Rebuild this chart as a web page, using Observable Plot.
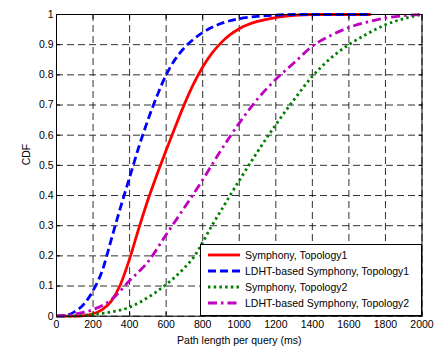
<!DOCTYPE html>
<html>
<head>
<meta charset="utf-8">
<script src="https://cdn.jsdelivr.net/npm/d3@7"></script>
<script src="https://cdn.jsdelivr.net/npm/@observablehq/plot@0.6"></script>
<style>
  body { margin: 0; background: #fff; }
  #wrap { position: relative; width: 440px; height: 347px; font-family: "Liberation Sans", Arial, sans-serif; }
  #legend { position: absolute; left: 200px; top: 244px; width: 220px; height: 70px; border: 1px solid #000; background: #fff; box-sizing: content-box; }
  .row { position: absolute; left: 0; height: 16px; display: flex; align-items: center; font-size: 10.5px; color: #000; white-space: nowrap; }
  .row svg { margin-left: 7px; margin-right: 5px; }
</style>
</head>
<body>
<div id="wrap"></div>
<script>
// Symphony, Topology1
const symT1X = [0,100,150,200,250,300,350,400,450,500,550,600,650,700,750,800,850,900,950,1000,1100,1200,1300,1400,1720];
const symT1Y = [0,0,0.002,0.008,0.022,0.05,0.105,0.19,0.29,0.385,0.47,0.55,0.628,0.703,0.77,0.826,0.871,0.906,0.933,0.953,0.977,0.99,0.997,1,1];
// LDHT-based Symphony, Topology1
const ldhtT1X = [0,50,100,150,200,250,300,350,400,450,500,550,600,650,700,750,800,900,1000,1100,1200,1300,1720];
const ldhtT1Y = [0,0.002,0.015,0.04,0.085,0.15,0.255,0.36,0.46,0.56,0.65,0.73,0.8,0.852,0.89,0.918,0.94,0.97,0.986,0.994,0.998,1,1];
// Symphony, Topology2
const symT2X = [0,100,200,300,400,500,600,700,750,800,850,900,1000,1100,1200,1300,1400,1500,1600,1700,1800,1900,2000];
const symT2Y = [0,0.001,0.006,0.014,0.03,0.062,0.105,0.16,0.195,0.245,0.3,0.35,0.45,0.545,0.635,0.718,0.795,0.855,0.9,0.936,0.966,0.986,1];
// LDHT-based Symphony, Topology2
const ldhtT2X = [0,100,200,300,400,500,600,700,800,900,1000,1100,1200,1300,1400,1500,1600,1700,1800,1900,2000];
const ldhtT2Y = [0,0.007,0.022,0.055,0.118,0.18,0.27,0.36,0.452,0.55,0.64,0.72,0.785,0.84,0.895,0.93,0.957,0.975,0.988,0.996,1];

const seriesNames = ["Symphony, Topology1","LDHT-based Symphony, Topology1","Symphony, Topology2","LDHT-based Symphony, Topology2"];
const seriesColors = ["#ff0000","#0000ff","#008000","#bf00bf"];
const seriesDash = [null,"8,4","2.5,3.2","9,4,2.5,4"];
const xTicks = [0,200,400,600,800,1000,1200,1400,1600,1800,2000];
const xTickLabels = ["0","200","400","600","800","1000","1200","1400","1600","1800","2000"];
const yTicks = [0,0.1,0.2,0.3,0.4,0.5,0.6,0.7,0.8,0.9,1];
const yTickLabels = ["0","0.1","0.2","0.3","0.4","0.5","0.6","0.7","0.8","0.9","1"];

const xs = [symT1X, ldhtT1X, symT2X, ldhtT2X];
const ys = [symT1Y, ldhtT1Y, symT2Y, ldhtT2Y];
const rows = [];
xs.forEach((xa, i) => xa.forEach((x, j) => rows.push({s: i, x, y: ys[i][j]})));

const lineMarks = seriesNames.map((n, i) => Plot.line(rows.filter(r => r.s === i), {
  x: "x", y: "y", stroke: seriesColors[i], strokeWidth: 2.8,
  strokeDasharray: seriesDash[i] || undefined, curve: "monotone-x", strokeLinecap: "butt"
}));

const chart = Plot.plot({
  width: 440, height: 347,
  marginLeft: 56, marginRight: 18.5, marginTop: 14, marginBottom: 31.3,
  style: {fontFamily: '"Liberation Sans", Arial, sans-serif', fontSize: "10.5px", background: "#fff", color: "#000"},
  x: {domain: [0, 2000]},
  y: {domain: [0, 1]},
  marks: [
    Plot.gridX(xTicks, {stroke: "#000", strokeOpacity: 0.9, strokeWidth: 0.9, strokeDasharray: "7,4"}),
    Plot.gridY(yTicks, {stroke: "#000", strokeOpacity: 0.9, strokeWidth: 0.9, strokeDasharray: "7,4"}),
    Plot.axisX(xTicks, {tickSize: 0, tickPadding: 4, label: null, tickFormat: (d, i) => xTickLabels[i]}),
    Plot.axisY(yTicks, {tickSize: 0, tickPadding: 3, label: null, tickFormat: (d, i) => yTickLabels[i]}),
    Plot.axisX(xTicks, {anchor: "bottom", tickSize: -4, tickFormat: () => "", label: null}),
    Plot.axisX(xTicks, {anchor: "top", tickSize: -4, tickFormat: () => "", label: null}),
    Plot.axisY(yTicks, {anchor: "left", tickSize: -4, tickFormat: () => "", label: null}),
    Plot.axisY(yTicks, {anchor: "right", tickSize: -4, tickFormat: () => "", label: null}),
    ...lineMarks,
    Plot.frame({stroke: "#000", strokeWidth: 1}),
    Plot.text(["Path length per query (ms)"], {frameAnchor: "bottom", dy: 24, lineAnchor: "middle", fontSize: 10.5}),
    Plot.text(["CDF"], {frameAnchor: "left", dx: -30, rotate: -90, lineAnchor: "middle", fontSize: 10.5})
  ]
});

const wrap = document.getElementById("wrap");
wrap.appendChild(chart);
const legend = document.createElement("div");
legend.id = "legend";
seriesNames.forEach((n, i) => {
  const row = document.createElement("div");
  row.className = "row";
  row.style.top = (2 + i * 15.9) + "px";
  const dash = seriesDash[i] ? `stroke-dasharray="${seriesDash[i]}"` : "";
  row.innerHTML = `<svg width="32" height="6"><line x1="0" y1="3" x2="32" y2="3" stroke="${seriesColors[i]}" stroke-width="2.8" ${dash}/></svg><span>${n}</span>`;
  legend.appendChild(row);
});
wrap.appendChild(legend);
</script>
</body>
</html>
